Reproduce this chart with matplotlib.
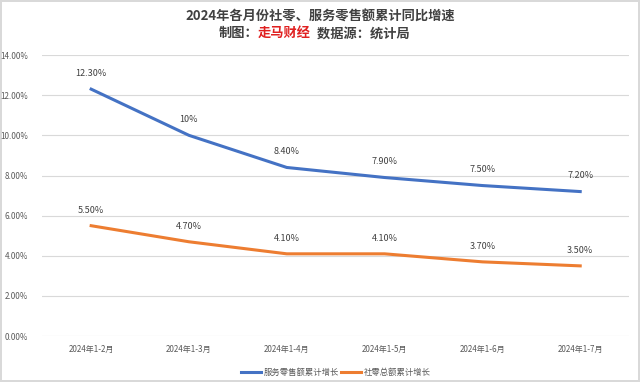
import matplotlib.pyplot as plt
from matplotlib.ticker import FuncFormatter

plt.rcParams['font.family'] = ['Noto Sans CJK SC', 'DejaVu Sans']

months = ['2024年1-2月', '2024年1-3月', '2024年1-4月', '2024年1-5月', '2024年1-6月', '2024年1-7月']
service = [12.30, 10.0, 8.40, 7.90, 7.50, 7.20]
service_labels = ['12.30%', '10%', '8.40%', '7.90%', '7.50%', '7.20%']
retail = [5.50, 4.70, 4.10, 4.10, 3.70, 3.50]
retail_labels = ['5.50%', '4.70%', '4.10%', '4.10%', '3.70%', '3.50%']

blue = '#4472C4'
orange = '#ED7D31'
grey = '#595959'

fig = plt.figure(figsize=(6.4, 3.82), dpi=100)
fig.patch.set_edgecolor('#D9D9D9')
fig.patch.set_linewidth(1.5)
ax = fig.add_axes([0.066, 0.120, 0.917, 0.736])

x = range(len(months))
ax.plot(x, service, color=blue, lw=2.2, label='服务零售额累计增长')
ax.plot(x, retail, color=orange, lw=2.2, label='社零总额累计增长')

for i in x:
    ax.annotate(service_labels[i], (i, service[i]), xytext=(0, 8), textcoords='offset points',
                ha='center', va='bottom', fontsize=6.5, color='#404040')
    ax.annotate(retail_labels[i], (i, retail[i]), xytext=(0, 8), textcoords='offset points',
                ha='center', va='bottom', fontsize=6.5, color='#404040')

ax.set_xlim(-0.5, len(months) - 0.5)
ax.set_ylim(0, 14)
ax.set_yticks(range(0, 15, 2))
ax.yaxis.set_major_formatter(FuncFormatter(lambda v, p: f'{v:.2f}%'))
ax.set_xticks(list(x))
ax.set_xticklabels(months)
ax.tick_params(axis='both', length=0, labelsize=5.8, colors=grey)
ax.tick_params(axis='x', pad=6)
ax.tick_params(axis='y', pad=10)
ax.grid(axis='y', color='#D9D9D9', lw=0.8)
ax.set_axisbelow(True)
for s in ax.spines.values():
    s.set_visible(False)

ax.legend(loc='upper center', bbox_to_anchor=(0.5, -0.085), ncol=2, frameon=False,
          fontsize=6, handlelength=2.4, columnspacing=0.3, handletextpad=0.3,
          labelcolor=grey)

fig.text(0.5, 0.955, '2024年各月份社零、服务零售额累计同比增速', ha='center', va='center',
         fontsize=9.5, fontweight='bold', color='#404040')
t1 = fig.text(0.341, 0.913, '制图：', ha='left', va='center', fontsize=9.5,
              fontweight='bold', color='#404040')
t2 = ax.annotate('走马财经', xy=(1, 0), xycoords=t1, va='bottom', fontsize=9.5,
                 fontweight='bold', color='#E02020', annotation_clip=False)
ax.annotate('  数据源：统计局', xy=(1, 0), xycoords=t2, va='bottom', fontsize=9.5,
            fontweight='bold', color='#404040', annotation_clip=False)

fig.savefig('out.png', dpi=100)
